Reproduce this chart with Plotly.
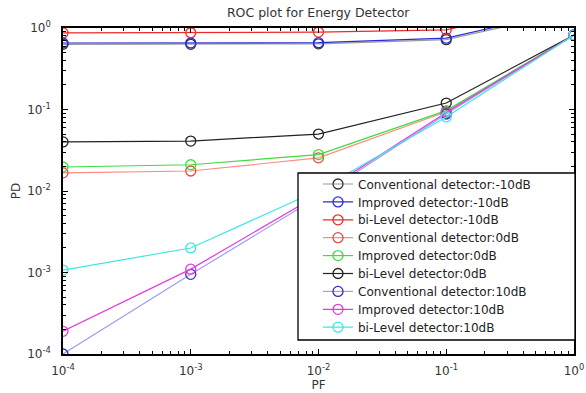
import plotly.graph_objects as go

pf = [1e-4, 1e-3, 1e-2, 1e-1, 1e0]

conv_m10 = [0.63, 0.63, 0.64, 0.72, 1.6]
impr_m10 = [0.655, 0.655, 0.66, 0.75, 1.7]
bil_m10 = [0.87, 0.875, 0.89, 0.95, 2.1]
conv_0 = [0.0167, 0.0176, 0.0255, 0.094, 0.82]
impr_0 = [0.0197, 0.021, 0.028, 0.097, 0.82]
bil_0 = [0.040, 0.041, 0.050, 0.12, 0.82]
conv_10 = [0.0001, 0.00095, 0.0085, 0.088, 0.82]
impr_10 = [0.00019, 0.0011, 0.009, 0.092, 0.82]
bil_10 = [0.00107, 0.002, 0.0102, 0.081, 0.82]

series = [
    ("Conventional detector:-10dB", conv_m10, "#9a9a9a", "#333333"),
    ("Improved detector:-10dB", impr_m10, "#2b2bd8", "#2b2bd8"),
    ("bi-Level detector:-10dB", bil_m10, "#ee2b2b", "#ee2b2b"),
    ("Conventional detector:0dB", conv_0, "#ff8c80", "#e84a40"),
    ("Improved detector:0dB", impr_0, "#3fdc3f", "#3fdc3f"),
    ("bi-Level detector:0dB", bil_0, "#222222", "#222222"),
    ("Conventional detector:10dB", conv_10, "#a09ef0", "#3030c0"),
    ("Improved detector:10dB", impr_10, "#e23ae2", "#e23ae2"),
    ("bi-Level detector:10dB", bil_10, "#3ee6e6", "#3ee6e6"),
]

tick_vals = [1e-4, 1e-3, 1e-2, 1e-1, 1e0]
tick_text = ["10<sup>-4</sup>", "10<sup>-3</sup>", "10<sup>-2</sup>", "10<sup>-1</sup>", "10<sup>0</sup>"]
minor_vals = [m * 10 ** e for e in range(-4, 0) for m in range(2, 10)]

# plot-area geometry in pixels (layout only)
L, R, T, B = 63, 574, 28, 354
PW, PH = R - L, B - T

def px_x(p):
    return (p - L) / PW

def px_y(p):
    return (B - p) / PH

font_family = "DejaVu Sans, Verdana, sans-serif"
text_col = "#333333"

fig = go.Figure()
legend_layouts = {}
for i, (name, vals, lc, mc) in enumerate(series):
    key = "legend" if i == 0 else f"legend{i + 1}"
    fig.add_trace(go.Scatter(
        x=pf, y=vals, name=name, mode="lines+markers",
        line=dict(color=lc, width=1.2),
        marker=dict(symbol="circle-open", size=10, color=mc, line=dict(width=1.3, color=mc)),
        legend=key,
    ))
    legend_layouts[key] = dict(
        x=px_x(318), y=px_y(184 + i * 17.9), xanchor="left", yanchor="middle",
        bgcolor="rgba(255,255,255,0)", borderwidth=0,
        font=dict(family=font_family, size=12, color="#222222"),
    )

axis_common = dict(
    type="log", tickvals=tick_vals, ticktext=tick_text, automargin=False,
    ticks="inside", ticklen=5, tickcolor="black", showline=True, linecolor="black",
    linewidth=1.5, mirror="ticks", showgrid=False, zeroline=False,
    tickfont=dict(family=font_family, size=12, color=text_col),
    minor=dict(ticks="inside", ticklen=3, tickcolor="black", tickvals=minor_vals, showgrid=False),
)

fig.update_layout(
    width=586, height=393,
    margin=dict(l=L, r=586 - R, t=T, b=393 - B),
    paper_bgcolor="white", plot_bgcolor="white",
    title=dict(text="ROC plot for Energy Detector", x=0.543, xanchor="center", y=0.968, yanchor="middle",
               font=dict(family=font_family, size=12.5, color=text_col)),
    xaxis=dict(**axis_common, range=[-4, 0], ticklabelstandoff=5,
               title=dict(text="PF", standoff=2, font=dict(family=font_family, size=12, color=text_col))),
    yaxis=dict(**axis_common, range=[-4, 0], ticklabelstandoff=8,
               title=dict(text="PD", standoff=4, font=dict(family=font_family, size=12, color=text_col))),
    showlegend=True,
    shapes=[dict(type="rect", xref="paper", yref="paper", x0=px_x(298), x1=px_x(575),
                 y0=px_y(340), y1=px_y(173), line=dict(color="black", width=1.3),
                 fillcolor="white", layer="above")],
    **legend_layouts,
)

fig.write_html("out.html")
